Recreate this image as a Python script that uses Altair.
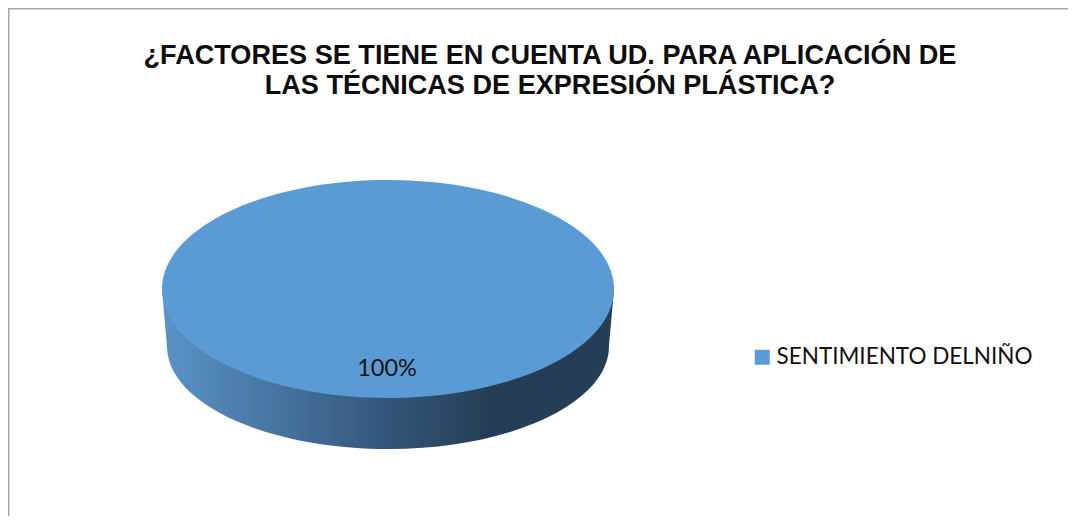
import altair as alt
import pandas as pd

TITLE_LINES = ["¿FACTORES SE TIENE EN CUENTA UD. PARA APLICACIÓN DE",
               "LAS TÉCNICAS DE EXPRESIÓN PLÁSTICA?"]
CATEGORIES = ["SENTIMIENTO DELNIÑO"]
SHARES = [100]
COLORS = ["#5B9BD5"]

data = pd.DataFrame({"cat": CATEGORIES, "share": SHARES,
                     "label": [f"{s}%" for s in SHARES]})
W, H = 1060, 508
CX, CY = 380, 281
SIZE = 452 ** 2

TOP_PATH = "M -1 0 A 1 0.482 0 1 1 1 0 A 1 0.482 0 1 1 -1 0 Z"
WALL_PATH = ("M -1 0 L -0.978 0.257 A 0.978 0.455 0 0 0 0.978 0.25 "
             "L 1 0 Z")

wall_fill = alt.LinearGradient(
    gradient="linear", x1=0, x2=1, y1=0, y2=0,
    stops=[alt.GradientStop(color="#5A93C8", offset=0),
           alt.GradientStop(color="#4A7BA8", offset=0.2),
           alt.GradientStop(color="#34557B", offset=0.5),
           alt.GradientStop(color="#243E55", offset=0.72),
           alt.GradientStop(color="#243E55", offset=1)])

base = alt.Chart(data)
color_scale = alt.Scale(domain=CATEGORIES, range=COLORS)

legend_anchor = base.mark_square(size=4, opacity=1).encode(
    x=alt.value(CX), y=alt.value(CY),
    color=alt.Color("cat:N", scale=color_scale, title=None,
                    legend=alt.Legend(orient="none", legendX=743, legendY=338,
                                      symbolType="square", symbolSize=225,
                                      symbolStrokeWidth=0,
                                      labelFont="Lato", labelFontSize=22.5,
                                      labelColor="#111111", labelLimit=320,
                                      labelOffset=3, padding=0)))

wall = base.mark_point(shape=WALL_PATH, size=SIZE, filled=True, opacity=1,
                       fill=wall_fill, strokeWidth=0).encode(
    x=alt.value(CX), y=alt.value(CY))

top = base.mark_point(shape=TOP_PATH, size=SIZE, filled=True, opacity=1,
                      fill=COLORS[0], strokeWidth=0).encode(
    x=alt.value(CX), y=alt.value(CY))

pct = base.mark_text(font="Lato", fontSize=23.5, color="#111111").encode(
    x=alt.value(CX - 1), y=alt.value(361), text="label:N")

border_left = base.mark_rule(color="#A6A6A6", strokeWidth=1.5).encode(
    x=alt.value(0.75), y=alt.value(0), y2=alt.value(H))
border_top = base.mark_rule(color="#A6A6A6", strokeWidth=1.5).encode(
    y=alt.value(0.75), x=alt.value(0), x2=alt.value(W))

chart = alt.layer(border_left, border_top, legend_anchor, wall, top, pct).properties(
    width=W, height=H, padding=0, autosize=alt.AutoSizeParams(type="none"),
    title=alt.TitleParams(text=TITLE_LINES, font="Liberation Sans", fontSize=27.1,
                          fontWeight="bold", color="#0D0D0D", anchor="start",
                          align="center", dx=542, lineHeight=30,
                          baseline="top", offset=-93, frame="group"),
).configure_view(stroke=None)

chart.save("out.html", embed_options={"renderer": "svg", "actions": False})
